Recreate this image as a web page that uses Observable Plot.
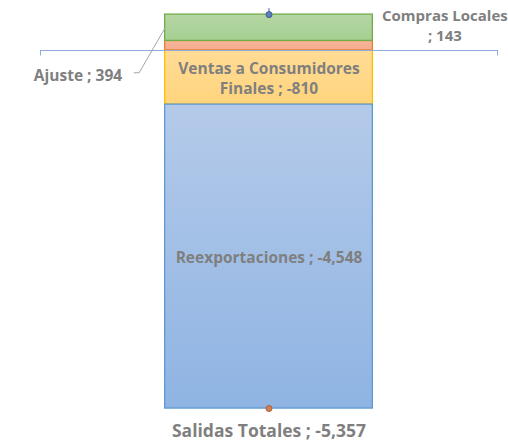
<!DOCTYPE html>
<html>
<head>
<meta charset="utf-8">
<script src="https://cdn.jsdelivr.net/npm/d3@7"></script>
<script src="https://cdn.jsdelivr.net/npm/@observablehq/plot@0.6"></script>
<style>
  html, body { margin: 0; padding: 0; background: #fff; }
  #chart svg { display: block; }
</style>
</head>
<body>
<div id="chart"></div>
<script>
// ---- data ----
const categories = ["Ventas a Consumidores Finales", "Reexportaciones", "Compras Locales", "Ajuste"];
const values = [-810, -4548, 143, 394];
const labels = ["Ventas a Consumidores\nFinales ; -810", "Reexportaciones ; -4,548", "Compras Locales\n; 143", "Ajuste ; 394"];
const totalLabel = "Salidas Totales ; -5,357";
const totalValue = -5357;

// ---- styles ----
const gradIds = ["gYellow", "gBlue", "gOrange", "gGreen"];
const strokes = ["#ffc000", "#5b9bd5", "#ed7d31", "#70ad47"];
const textColor = "#7f7f7f";
const font = "'Open Sans', Lato, sans-serif";

// ---- stacking (positives up, negatives down) ----
let pos = 0, neg = 0;
const segs = categories.map((c, i) => {
  const v = values[i];
  let y1, y2;
  if (v >= 0) { y1 = pos; y2 = pos + v; pos = y2; }
  else { y1 = neg; y2 = neg + v; neg = y2; }
  return {cat: c, value: v, y1, y2, mid: (y1 + y2) / 2, label: labels[i], i};
});
const posTotal = pos;

const W = 508, H = 442;
const yDomain = [-5866, 748];
const xDomain = [-2.2, 2.2];
const mL = 40, mR = 11;
const xk = (W - mL - mR) / (xDomain[1] - xDomain[0]); // px per x unit
const yk = H / (yDomain[1] - yDomain[0]);            // px per y unit

const byCat = Object.fromEntries(segs.map(s => [s.cat, s]));
const ajuste = byCat["Ajuste"];
const leader = [
  {x: -1, y: ajuste.mid},
  {x: -1 - 26 / xk, y: ajuste.mid - 45 / yk},
  {x: -1 - 31 / xk, y: ajuste.mid - 45 / yk}
];

const marks = [];
segs.forEach(s => {
  marks.push(Plot.rect([s], {x1: -1, x2: 1, y1: "y1", y2: "y2",
    fill: `url(#${gradIds[s.i]})`, stroke: strokes[s.i], strokeWidth: 1.3}));
});
// zero axis with end ticks
marks.push(Plot.ruleY([0], {x1: xDomain[0], x2: xDomain[1], stroke: "#8faadc", strokeWidth: 1}));
marks.push(Plot.ruleX(xDomain, {y1: 0, y2: -5.5 / yk, stroke: "#8faadc", strokeWidth: 1}));
// high stem + dots
marks.push(Plot.ruleX([0], {y1: posTotal, y2: posTotal + 6 / yk, stroke: "#4a6aa5", strokeWidth: 1}));
marks.push(Plot.dot([{x: 0, y: posTotal}], {x: "x", y: "y", r: 3, fill: "#5b7fc0", stroke: "#3f5a92", strokeWidth: 1}));
marks.push(Plot.dot([{x: 0, y: totalValue}], {x: "x", y: "y", r: 3, fill: "#d08050", stroke: "#b0603a", strokeWidth: 1}));
// leader line for Ajuste
marks.push(Plot.line(leader, {x: "x", y: "y", stroke: "#a6a6a6", strokeWidth: 1}));

const txt = {fill: textColor, fontWeight: "bold", fontFamily: font, fontSize: 15.5, lineHeight: 1.3};
// Inside labels
["Ventas a Consumidores Finales", "Reexportaciones"].forEach(c => {
  marks.push(Plot.text([byCat[c]], {x: 0, y: "mid", text: "label", ...txt}));
});
marks.push(Plot.text([byCat["Compras Locales"]], {x: 1, y: "mid", text: "label", dx: 72, dy: -21, ...txt, fontSize: 15, lineHeight: 1.35}));
marks.push(Plot.text([ajuste], {x: -1, y: "mid", text: "label", dx: -43, dy: 47, textAnchor: "end", ...txt}));
marks.push(Plot.text([{x: 0, y: totalValue, t: totalLabel}], {x: "x", y: "y", text: "t", dy: 21, ...txt, fontSize: 17.5}));

const svg = Plot.plot({
  width: W, height: H,
  marginLeft: mL, marginRight: mR, marginTop: 0, marginBottom: 0,
  x: {domain: xDomain, axis: null},
  y: {domain: yDomain, axis: null},
  style: {background: "#fff", overflow: "visible"},
  marks
});

const defs = `
<defs>
  <linearGradient id="gGreen" x1="0" y1="0" x2="0" y2="1"><stop offset="0" stop-color="#b5d6a5"/><stop offset="1" stop-color="#a6cf91"/></linearGradient>
  <linearGradient id="gOrange" x1="0" y1="0" x2="0" y2="1"><stop offset="0" stop-color="#f6b59a"/><stop offset="1" stop-color="#f4ab8e"/></linearGradient>
  <linearGradient id="gYellow" x1="0" y1="0" x2="0" y2="1"><stop offset="0" stop-color="#ffdc96"/><stop offset="1" stop-color="#ffd47c"/></linearGradient>
  <linearGradient id="gBlue" x1="0" y1="0" x2="0" y2="1"><stop offset="0" stop-color="#b4cae9"/><stop offset="1" stop-color="#8fb4e3"/></linearGradient>
</defs>`;
svg.insertAdjacentHTML("afterbegin", defs);
document.getElementById("chart").appendChild(svg);
</script>
</body>
</html>
